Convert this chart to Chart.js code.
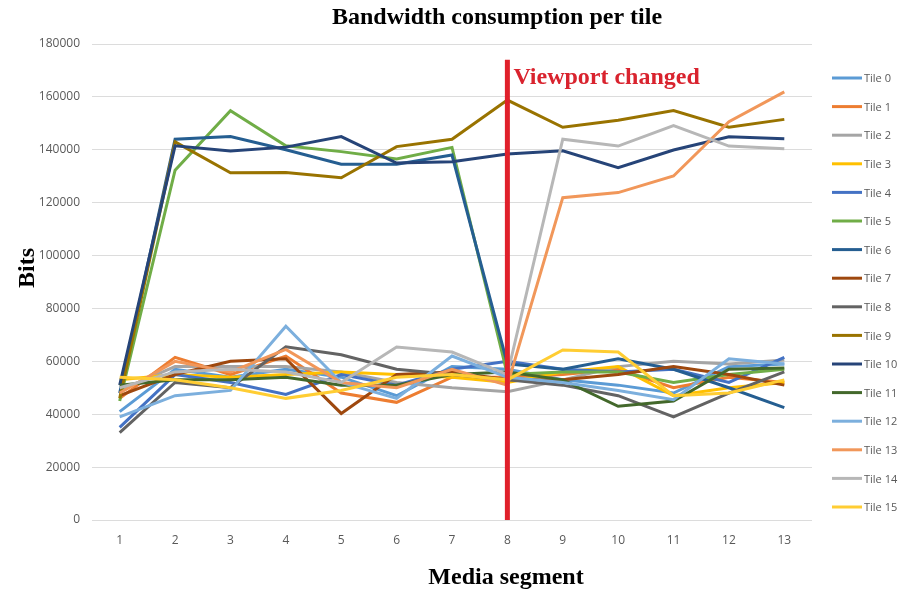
<!DOCTYPE html>
<html lang="en">
<head>
    <meta charset="UTF-8">
    <title>Bandwidth consumption per tile</title>
    <script src="https://cdn.jsdelivr.net/npm/chart.js@4/dist/chart.umd.min.js"></script>
    <style>
        html, body {
            margin: 0;
            padding: 0;
            background: #ffffff;
        }
        #wrap {
            width: 899px;
            height: 597px;
        }
    </style>
</head>
<body>
    <div id="wrap">
        <canvas id="tileChart" width="899" height="597"></canvas>
    </div>

    <script>
        // Media segments on the x axis
        var segments = ['1', '2', '3', '4', '5', '6', '7', '8', '9', '10', '11', '12', '13'];

        // Bits per segment for each tile
        var tile0  = [41000, 57000, 54000, 57000, 54000, 47000, 58000, 57000, 53000, 51000, 48000, 58000, 59000];
        var tile1  = [46000, 61500, 55000, 62000, 48000, 44500, 54000, 54000, 55000, 57000, 50000, 54000, 52000];
        var tile2  = [49000, 58000, 58000, 58000, 56000, 52000, 50000, 48500, 53000, 58000, 60000, 59000, 60500];
        var tile3  = [53000, 55000, 54000, 55000, 56000, 55000, 54000, 52000, 56000, 58000, 47000, 50000, 52000];
        var tile4  = [35000, 55000, 52000, 47500, 55000, 51000, 57000, 60000, 57000, 56000, 57000, 52000, 61500];
        var tile5  = [45000, 132300, 154800, 141500, 139300, 136500, 140900, 55000, 56000, 56000, 52000, 55000, 57000];
        var tile6  = [48000, 144000, 145000, 140000, 134500, 134500, 138000, 59000, 57000, 61000, 57000, 50000, 42500];
        var tile7  = [47000, 55000, 60000, 61000, 40300, 55000, 56000, 53000, 53000, 55000, 58000, 55000, 51000];
        var tile8  = [33000, 52000, 50000, 65500, 62500, 57000, 55000, 53000, 51000, 47000, 39000, 48000, 56000];
        var tile9  = [46000, 143000, 131300, 131400, 129400, 141200, 144000, 158800, 148500, 151200, 154800, 148500, 151500];
        var tile10 = [51000, 141500, 139500, 141000, 145000, 135000, 135500, 138400, 139600, 133200, 139900, 144900, 144200];
        var tile11 = [51000, 53000, 53000, 54000, 51000, 51000, 55000, 56000, 53000, 43000, 45000, 57000, 57500];
        var tile12 = [39000, 47000, 49000, 73300, 52000, 46000, 62000, 54000, 52000, 49000, 45500, 61000, 59000];
        var tile13 = [48000, 60000, 56000, 64500, 52000, 50000, 57000, 51000, 121900, 123800, 130100, 150600, 161900];
        var tile14 = [50000, 56000, 57000, 56000, 52000, 65400, 63500, 55000, 144000, 141400, 149100, 141400, 140400];
        var tile15 = [54000, 53000, 50000, 46000, 49000, 54000, 55000, 53000, 64300, 63500, 47000, 48000, 53000];

        var tileSeries = [tile0, tile1, tile2, tile3, tile4, tile5, tile6, tile7,
                          tile8, tile9, tile10, tile11, tile12, tile13, tile14, tile15];

        var tileColors = ['#5B9BD5', '#ED7D31', '#A5A5A5', '#FFC000', '#4472C4', '#70AD47', '#255E91', '#9E480E',
                          '#636363', '#997300', '#264478', '#43682B', '#7CAFDD', '#F1975A', '#B7B7B7', '#FFCD33'];

        // Segment where the viewport switched, and the marker's top value
        var viewportSegment = '8';
        var markerTop = 174000;

        var tickFont = "'Open Sans', sans-serif";
        var titleFont = "'Liberation Serif', 'DejaVu Serif', serif";

        var datasets = tileSeries.map(function (values, i) {
            return {
                label: 'Tile ' + i,
                data: values,
                borderColor: tileColors[i],
                backgroundColor: tileColors[i],
                borderWidth: 3,
                pointRadius: 0,
                tension: 0,
                fill: false,
                order: tileSeries.length - i   // later tiles drawn on top
            };
        });

        // Titles, viewport marker and legend
        var decorations = {
            id: 'decorations',
            afterDatasetsDraw: function (chart) {
                var ctx = chart.ctx;
                var x = chart.scales.x;
                var y = chart.scales.y;
                var px = x.getPixelForValue(segments.indexOf(viewportSegment));

                ctx.save();
                ctx.strokeStyle = '#E0202B';
                ctx.lineWidth = 5;
                ctx.beginPath();
                ctx.moveTo(px, y.getPixelForValue(markerTop));
                ctx.lineTo(px, y.getPixelForValue(0));
                ctx.stroke();

                ctx.fillStyle = '#D9232E';
                ctx.font = 'bold 24px ' + titleFont;
                ctx.textAlign = 'left';
                ctx.textBaseline = 'middle';
                ctx.fillText('Viewport changed', px + 6, 78);

                ctx.fillStyle = '#000000';
                ctx.textAlign = 'center';
                ctx.fillText('Bandwidth consumption per tile', 497, 18);
                ctx.fillText('Media segment', 506, 578);

                ctx.save();
                ctx.translate(28, 268);
                ctx.rotate(-Math.PI / 2);
                ctx.fillText('Bits', 0, 0);
                ctx.restore();

                // legend
                ctx.font = '11px ' + tickFont;
                ctx.textAlign = 'left';
                ctx.fillStyle = '#595959';
                chart.data.datasets.forEach(function (ds, i) {
                    var ly = 78 + i * 28.6;
                    ctx.strokeStyle = ds.borderColor;
                    ctx.lineWidth = 3;
                    ctx.beginPath();
                    ctx.moveTo(832, ly);
                    ctx.lineTo(862, ly);
                    ctx.stroke();
                    ctx.fillText(ds.label, 864, ly + 1);
                });
                ctx.restore();
            }
        };

        var chart = new Chart(document.getElementById('tileChart'), {
            type: 'line',
            data: {
                labels: segments,
                datasets: datasets
            },
            options: {
                responsive: false,
                animation: false,
                layout: {
                    padding: { top: 44, bottom: 42, left: 0, right: 87 }
                },
                plugins: {
                    legend: { display: false },
                    tooltip: { enabled: false }
                },
                scales: {
                    x: {
                        offset: true,
                        grid: { display: false, drawTicks: false },
                        border: { display: false },
                        ticks: {
                            color: '#595959',
                            padding: 13,
                            font: { family: tickFont, size: 12 }
                        },
                        afterFit: function (scale) { scale.height = 35; }
                    },
                    y: {
                        min: 0,
                        max: 180000,
                        grid: { color: '#DCDCDC', drawTicks: false, lineWidth: 1 },
                        border: { display: false },
                        ticks: {
                            stepSize: 20000,
                            color: '#595959',
                            padding: 12,
                            font: { family: tickFont, size: 12 },
                            callback: function (value) { return String(value); }
                        },
                        afterFit: function (scale) { scale.width = 92; }
                    }
                }
            },
            plugins: [decorations]
        });
    </script>
</body>
</html>
